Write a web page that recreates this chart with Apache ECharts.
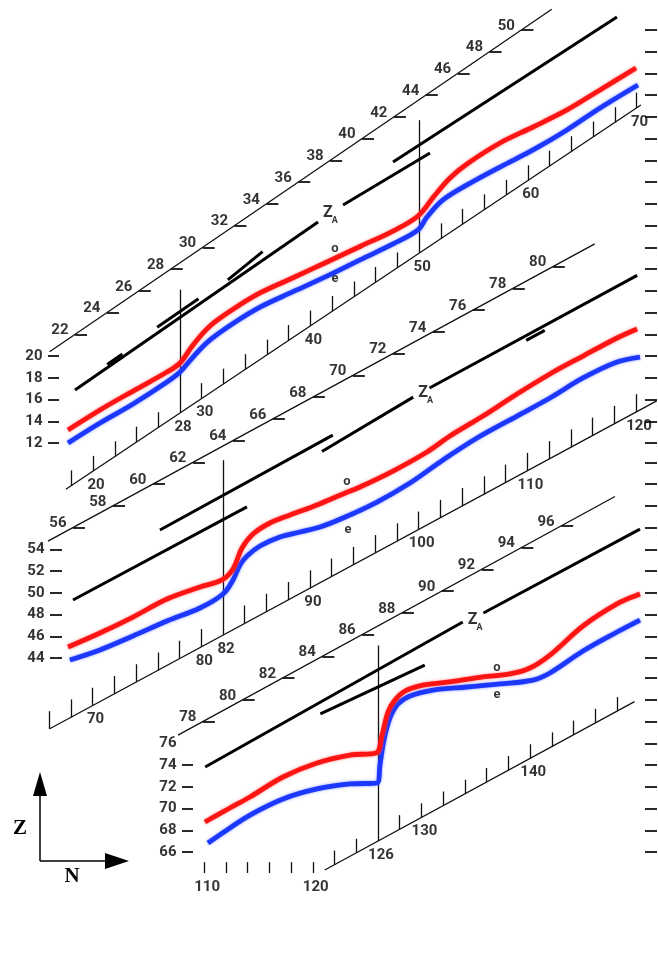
<!DOCTYPE html>
<html><head><meta charset="utf-8">
<script src="https://cdn.jsdelivr.net/npm/echarts/dist/echarts.min.js"></script>
<style>html,body{margin:0;padding:0;background:#fff}#c{width:658px;height:963px}</style>
</head><body><div id="c"></div>
<script>
// ---------------- DATA (N = neutron number, Z = proton number) ----------------
// Panel 1 (N 18-70)
const oddN1  = [17.70,20.64,23.68,26.80,28.00,29.20,30.76,32.88,35.36,38.40,41.52,44.56,47.60,49.90,51.46,52.84,54.40,57.44,60.48,63.60,66.64,69.95];
const oddZ1  = [13.20,15.04,16.78,18.53,19.36,21.02,22.76,24.30,25.80,27.20,28.65,30.08,31.50,32.88,34.82,36.38,37.67,39.60,41.07,42.64,44.48,46.50];
const evenN1 = [17.70,20.64,23.68,26.80,28.00,29.20,30.76,32.88,35.36,38.40,41.52,44.56,47.60,49.90,50.72,52.19,54.40,57.44,60.48,63.60,66.64,70.13];
const evenZ1 = [12.00,13.84,15.59,17.61,18.53,19.91,21.48,23.00,24.50,25.92,27.35,28.84,30.31,31.60,32.79,34.36,35.74,37.39,38.96,40.80,42.82,44.94];
const nTicks1 = [18,20,22,24,26,30,32,34,36,38,40,42,44,46,48,52,54,56,58,60,62,64,66,68,70];
const nLabels1 = [20,28,30,40,50,60,70];
const magicN1 = [28,50];
const magicTop1 = [26.1,41.7];
const zLeft1 = [12,14,16,18,20];
const zDiag1 = [22,24,26,28,30,32,34,36,38,40,42,44,46,48,50];
const zRight1 = [12,14,16,18,20,22,24,26,28,30,32,34,36,38,40,42,44,46,48,50];
const baseN1 = [17.5,70.4], baseZ1 = [7.75,43.1];
const scaleN1 = [16.0,62.2], scaleZ1 = [20.4,51.9];
const zaN1 = [[18.34,40.70],[21.3,22.7],[25.9,29.7],[32.4,35.6],[43.0,51.0],[47.6,68.2]];
const zaZ1 = [[16.88,32.33],[19.23,20.19],[22.64,25.27],[27.0,29.6],[33.9,38.68],[37.85,51.19]];
const zaPos1 = [41.6,33.16], oPos1 = [42.26,29.85], ePos1 = [42.26,27.09];

// Panel 2 (N 66-120)
const oddN2  = [67.74,70.68,73.72,76.85,79.88,81.91,82.92,83.75,84.76,86.32,88.16,90.65,93.04,94.60,97.64,100.77,102.88,105.92,109.05,112.08,115.12,118.25,120.09];
const oddZ2  = [45.01,46.30,47.77,49.43,50.53,51.18,52.19,54.12,55.41,56.42,57.16,58.08,59.09,59.73,61.20,62.95,64.42,66.26,68.29,70.13,71.78,73.44,74.27];
const evenN2 = [67.92,70.68,73.72,76.85,79.88,82.00,82.92,83.56,84.21,85.40,87.24,89.08,90.92,93.04,96.17,99.20,102.24,105.37,109.05,112.08,115.12,118.25,120.36];
const evenZ2 = [43.82,44.74,46.02,47.40,48.60,49.89,51.18,52.56,53.38,54.30,55.13,55.59,56.05,56.88,58.35,60.10,62.22,64.24,66.26,67.92,69.76,71.23,71.69];
const nTicks2 = [66,68,70,72,74,76,78,80,84,86,88,90,92,94,96,98,100,102,104,106,108,110,112,114,116,118,120];
const nLabels2 = [70,80,82,90,100,110,120];
const magicN2 = [82];
const magicTop2 = [62.2];
const zLeft2 = [44,46,48,50,52,54];
const zDiag2 = [56,58,60,62,64,66,68,70,72,74,76,78,80];
const zRight2 = [44,46,48,50,52,54,56,58,60,62];
const baseN2 = [66.1,121.9], baseZ2 = [37.51,67.65];
const scaleN2 = [65.9,116.2], scaleZ2 = [54.75,82.1];
const zaN2 = [[68.2,84.2],[76.2,92.1],[91.1,99.5],[101.0,120.1],[109.9,111.6]];
const zaZ2 = [[49.34,57.9],[55.78,64.5],[63.0,68.0],[68.84,79.2],[73.22,74.14]];
const zaPos2 = [100.4,68.38], oPos2 = [93.41,60.19], ePos2 = [93.5,55.78];

// Panel 3 (N 110-150)
const oddN3  = [110.08,112.38,114.22,117.26,120.39,123.42,125.82,126.37,126.92,127.56,128.48,130.14,132.62,135.66,138.14,139.98,141.82,144.86,147.99,150.10];
const oddZ3  = [68.76,70.05,71.06,72.90,74.19,74.92,75.11,76.76,78.88,79.98,80.81,81.36,81.64,82.10,82.38,82.93,84.12,86.79,88.82,89.74];
const evenN3 = [110.36,112.38,114.22,117.26,120.39,123.42,125.91,126.18,126.55,127.10,127.84,128.94,131.06,134.19,137.22,140.26,141.82,144.86,147.99,150.10];
const evenZ3 = [66.83,68.21,69.40,70.88,71.80,72.26,72.35,74.00,76.30,78.33,79.62,80.35,80.90,81.18,81.46,81.82,82.47,84.49,86.24,87.34];
const flatTicks3 = [110,112,114,116,118,120];
const flatBase3 = 64.07;
const nTicks3 = [122,124,128,130,132,134,136,138,140,142,144,146,148];
const nLabels3 = [110,120,126,130,140];
const magicN3 = [126];
const magicTop3 = [85.0];
const zLeft3 = [66,68,70,72,74];
const zLeftOnly3 = [76];
const zDiag3 = [78,80,82,84,86,88,90,92,94,96];
const zRight3 = [66,68,70,72,74,76,78,80,82];
const baseN3 = [121.1,149.6], baseZ3 = [64.34,79.83];
const scaleN3 = [107.6,147.8], scaleZ3 = [76.75,98.7];
const zaN3 = [[110.1,133.8],[120.7,130.3],[135.7,150.1]];
const zaZ3 = [[73.82,87.16],[78.7,83.2],[87.99,95.7]];
const zaPos3 = [134.7,87.34], oPos3 = [136.95,82.93], ePos3 = [136.95,80.44];

// ---------------- LAYOUT ----------------
const W = 658, H = 963;
const S = 10.87; // pixels per unit on both axes
const FONT = 'Roboto, "Liberation Sans", sans-serif';
const INK = '#000000';
const RED = '#ff1414', BLUE = '#1c38ff';

const panels = [
  {n0:28, x0:180, z0:12, y0:443, odd:[oddN1,oddZ1], even:[evenN1,evenZ1], nTicks:nTicks1, tickLen:1.4,
   flat:[], flatBase:null, nLabels:nLabels1, magicN:magicN1, magicTop:magicTop1, zLeft:zLeft1, zLeftOnly:[],
   zDiag:zDiag1, zRight:zRight1, baseN:baseN1, baseZ:baseZ1, scaleN:scaleN1, scaleZ:scaleZ1,
   zaN:zaN1, zaZ:zaZ1, zaPos:zaPos1, oPos:oPos1, ePos:ePos1, leftDash:[48,59]},
  {n0:82, x0:223, z0:44, y0:658, odd:[oddN2,oddZ2], even:[evenN2,evenZ2], nTicks:nTicks2, tickLen:1.65,
   flat:[], flatBase:null, nLabels:nLabels2, magicN:magicN2, magicTop:magicTop2, zLeft:zLeft2, zLeftOnly:[],
   zDiag:zDiag2, zRight:zRight2, baseN:baseN2, baseZ:baseZ2, scaleN:scaleN2, scaleZ:scaleZ2,
   zaN:zaN2, zaZ:zaZ2, zaPos:zaPos2, oPos:oPos2, ePos:ePos2, leftDash:[50,62]},
  {n0:126, x0:378, z0:66, y0:852, odd:[oddN3,oddZ3], even:[evenN3,evenZ3], nTicks:nTicks3, tickLen:1.3,
   flat:flatTicks3, flatBase:flatBase3, nLabels:nLabels3, magicN:magicN3, magicTop:magicTop3, zLeft:zLeft3, zLeftOnly:zLeftOnly3,
   zDiag:zDiag3, zRight:zRight3, baseN:baseN3, baseZ:baseZ3, scaleN:scaleN3, scaleZ:scaleZ3,
   zaN:zaN3, zaZ:zaZ3, zaPos:zaPos3, oPos:oPos3, ePos:ePos3, leftDash:[182,193]}
];

const grids = [], xAxes = [], yAxes = [], series = [];

panels.forEach((p, i) => {
  grids.push({left:0, top:0, width:W, height:H});
  xAxes.push({type:'value', gridIndex:i, min:p.n0 - p.x0/S, max:p.n0 + (W - p.x0)/S, show:false});
  yAxes.push({type:'value', gridIndex:i, min:p.z0 - (H - p.y0)/S, max:p.z0 + p.y0/S, show:false});

  const toN = px => p.n0 + (px - p.x0)/S;
  const lineBase = n => p.baseZ[0] + (n - p.baseN[0])*(p.baseZ[1]-p.baseZ[0])/(p.baseN[1]-p.baseN[0]);
  const baseAt = n => (p.flatBase !== null && n <= 120.5) ? p.flatBase : lineBase(n);
  const cross = z => p.scaleN[0] + (z - p.scaleZ[0])*(p.scaleN[1]-p.scaleN[0])/(p.scaleZ[1]-p.scaleZ[0]);

  const thin = [];
  thin.push({coords:[[p.baseN[0],p.baseZ[0]],[p.baseN[1],p.baseZ[1]]]});
  thin.push({coords:[[p.scaleN[0],p.scaleZ[0]],[p.scaleN[1],p.scaleZ[1]]]});
  p.magicN.forEach((m,k) => thin.push({coords:[[m, lineBase(m)],[m, p.magicTop[k]]]}));
  p.nTicks.forEach(n => { const b = lineBase(n); thin.push({coords:[[n,b],[n,b+p.tickLen]]}); });
  p.flat.forEach(n => thin.push({coords:[[n,p.flatBase],[n,p.flatBase+1.0]]}));

  const dashes = [];
  p.zLeft.forEach(z => dashes.push({coords:[[toN(p.leftDash[0]),z],[toN(p.leftDash[1]),z]]}));
  p.zRight.forEach(z => dashes.push({coords:[[toN(645),z],[toN(657),z]]}));
  p.zDiag.forEach(z => { const c = cross(z); dashes.push({coords:[[c,z],[c+12/S,z]]}); });

  const za = p.zaN.map((seg,k) => ({coords:[[seg[0],p.zaZ[k][0]],[seg[1],p.zaZ[k][1]]]}));

  const base = {coordinateSystem:'cartesian2d', xAxisIndex:i, yAxisIndex:i, silent:true, polyline:false};
  series.push(Object.assign({type:'lines', data:thin, z:2, lineStyle:{color:'#111', width:1.3, opacity:1, curveness:0}}, base));
  series.push(Object.assign({type:'lines', data:dashes, z:2, lineStyle:{color:'#111', width:1.8, opacity:1, curveness:0}}, base));
  series.push(Object.assign({type:'lines', data:za, z:3, lineStyle:{color:'#000', width:3, opacity:1, curveness:0}}, base));

  series.push({type:'line', xAxisIndex:i, yAxisIndex:i, silent:true, showSymbol:false, symbol:'none', smooth:0.35, z:6,
    data:p.odd[0].map((n,k)=>[n,p.odd[1][k]]), lineStyle:{color:RED, width:4.8, shadowBlur:3, shadowColor:'rgba(255,80,80,0.7)'}});
  series.push({type:'line', xAxisIndex:i, yAxisIndex:i, silent:true, showSymbol:false, symbol:'none', smooth:0.35, z:5,
    data:p.even[0].map((n,k)=>[n,p.even[1][k]]), lineStyle:{color:BLUE, width:4.8, shadowBlur:3, shadowColor:'rgba(80,100,255,0.7)'}});

  const labels = [];
  p.zLeft.concat(p.zLeftOnly).forEach(z => labels.push({name:String(z), value:[toN(p.leftDash[0]), z],
     label:{position:'left', distance:5}}));
  p.zDiag.forEach(z => labels.push({name:String(z), value:[cross(z), z], label:{position:'left', distance:6, offset:[0,-4]}}));
  p.nLabels.forEach(n => labels.push({name:String(n), value:[n, baseAt(n)], label:{position:'bottom', distance:6, offset:[3,0]}}));
  labels.push({name:'Z', value:p.zaPos, label:{position:'inside', fontSize:16}});
  labels.push({name:'A', value:p.zaPos, label:{position:'inside', fontSize:9, offset:[7,8]}});
  labels.push({name:'o', value:p.oPos, label:{position:'inside', fontSize:13}});
  labels.push({name:'e', value:p.ePos, label:{position:'inside', fontSize:13}});
  series.push({type:'scatter', xAxisIndex:i, yAxisIndex:i, silent:true, symbolSize:1, z:8,
    itemStyle:{color:'rgba(0,0,0,0)'},
    label:{show:true, formatter:'{b}', color:INK, fontSize:15, fontWeight:'bold', fontFamily:FONT},
    data:labels});
});

const chart = echarts.init(document.getElementById('c'), null, {renderer:'canvas'});
chart.setOption({
  animation:false,
  backgroundColor:'#ffffff',
  grid:grids, xAxis:xAxes, yAxis:yAxes, series:series,
  graphic:[
    {type:'line', shape:{x1:40,y1:861,x2:40,y2:792}, style:{stroke:'#000', lineWidth:1.5}},
    {type:'polygon', shape:{points:[[40,772],[33,796],[47,796]]}, style:{fill:'#000'}},
    {type:'line', shape:{x1:40,y1:861,x2:108,y2:861}, style:{stroke:'#000', lineWidth:1.5}},
    {type:'polygon', shape:{points:[[129,861],[105,853],[105,869]]}, style:{fill:'#000'}},
    {type:'text', x:20, y:829, style:{text:'Z', font:'bold 21px "Liberation Serif", serif', align:'center', verticalAlign:'middle', fill:'#000'}},
    {type:'text', x:72, y:877, style:{text:'N', font:'bold 21px "Liberation Serif", serif', align:'center', verticalAlign:'middle', fill:'#000'}}
  ]
});
</script></body></html>
